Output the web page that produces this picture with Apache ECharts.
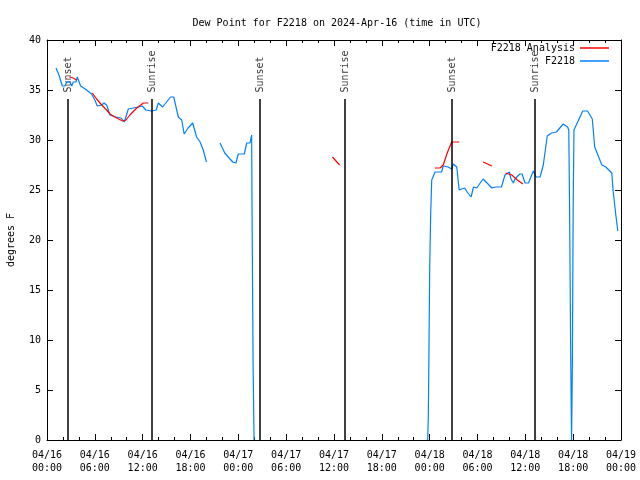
<!DOCTYPE html>
<html>
<head>
<meta charset="utf-8">
<script src="https://cdn.jsdelivr.net/npm/echarts@6/dist/echarts.min.js"></script>
<style>html,body{margin:0;padding:0;background:#fff}#c{width:640px;height:480px}</style>
</head>
<body>
<div id="c"></div>
<script>
// hours since 2024-04-16 00:00 UTC
const xTickLabels = ['04/16\n00:00','04/16\n06:00','04/16\n12:00','04/16\n18:00','04/17\n00:00','04/17\n06:00','04/17\n12:00','04/17\n18:00','04/18\n00:00','04/18\n06:00','04/18\n12:00','04/18\n18:00','04/19\n00:00'];

const obsHours = [1.13,1.5,1.92,2.26,2.47,2.89,3.1,3.3,3.64,3.8,4.05,4.22,4.97,5.6,6.0,6.3,6.86,7.15,7.48,7.9,8.66,9.3,9.7,10.2,10.8,11.45,11.95,12.4,13.1,13.7,13.96,14.5,15.0,15.5,15.9,16.27,16.47,16.9,17.2,17.7,18.27,18.77,19.2,19.6,20.0,
 20.8,
 21.7,22.3,22.96,23.3,23.7,24.0,24.75,25.05,25.25,25.46,25.67,25.72,25.85,25.97,
 37.0,
 47.75,47.83,47.92,48.0,48.13,48.26,48.67,49.5,49.7,50.3,50.76,50.96,51.4,51.7,52.0,52.4,52.7,53.2,53.5,53.9,54.7,55.2,55.8,56.3,57.0,57.45,58.0,58.2,58.5,58.7,58.9,59.3,59.6,59.96,60.4,61.0,61.35,61.85,62.25,62.75,63.3,63.9,64.75,65.3,65.45,65.55,65.7,65.8,65.9,66.0,66.1,67.2,67.8,68.4,68.7,69.2,69.6,70.1,70.85,71.0,71.35,71.6];
const obsDewPoint = [37.2,36.5,35.4,35.4,35.8,35.8,35.4,35.8,35.8,36.3,36.2,35.4,35.0,34.6,34.0,33.4,33.5,33.7,33.5,32.5,32.3,32.2,31.8,33.1,33.2,33.3,33.4,33.0,32.9,33.0,33.7,33.3,33.8,34.3,34.3,33.0,32.3,32.0,30.6,31.2,31.7,30.3,29.8,29.0,27.8,
 null,
 29.7,28.7,28.1,27.8,27.7,28.6,28.6,29.7,29.8,29.7,30.5,23.0,7.7,0,
 null,
 0,2.3,9.8,17.0,22.7,26.0,26.8,26.8,27.4,27.3,27.1,27.6,27.3,25.0,25.1,25.2,24.8,24.3,25.3,25.2,26.1,25.7,25.2,25.3,25.3,26.5,26.8,26.1,25.7,26.1,25.9,26.6,26.6,25.7,25.7,26.9,26.3,26.3,27.5,30.4,30.7,30.8,31.6,31.3,31.0,23.2,7.7,0,7.7,23.2,31.0,32.9,32.9,32.1,29.3,28.3,27.5,27.3,26.7,25.0,22.5,20.9];

const anaHours = [2.8,3.3,3.7, 4.5, 5.68,6.23,6.86,7.48,7.9,8.74,9.5,9.9,10.4,11.25,12.1,12.7, 20, 35.8,36.7, 42, 48.67,49.3,49.7,50.2,50.76,51.7, 53, 54.7,55.8, 56.5, 57.5,58.3,59.0,59.7];
const anaDewPoint = [36.3,36.2,36.0, null, 34.7,34.1,33.5,33.0,32.6,32.2,31.9,32.0,32.5,33.2,33.7,33.7, null, 28.3,27.5, null, 27.2,27.2,27.5,28.7,29.8,29.8, null, 27.8,27.4, null, 26.7,26.5,26.0,25.6];

const sunEventHours = [2.63,13.17,26.72,37.38,50.80,61.21];
const sunEventNames = ['Sunset','Sunrise','Sunset','Sunrise','Sunset','Sunrise'];

const FONT = 'DejaVu Sans Mono';
const chart = echarts.init(document.getElementById('c'), null, {renderer:'canvas'});

const pairs = (xs, ys) => xs.map((x,i) => [x, ys[i]]);

function xAxisDef(pos, showLabel){
  return {
    type:'value', min:0, max:72, interval:6, position:pos,
    axisLine:{show:true, onZero:false, lineStyle:{color:'#000', width:1}},
    axisTick:{show:true, inside:true, length:6, lineStyle:{color:'#000'}},
    minorTick:{show:true, splitNumber:3, length:3, lineStyle:{color:'#000'}},
    splitLine:{show:false}, minorSplitLine:{show:false},
    axisLabel: showLabel ? {show:true, inside:false, margin:9, fontFamily:FONT, fontSize:10, color:'#000', lineHeight:13,
        formatter:(v)=> xTickLabels[Math.round(v/6)]} : {show:false}
  };
}
function yAxisDef(pos, showLabel){
  const d = {
    type:'value', min:0, max:40, interval:5, position:pos,
    axisLine:{show:true, onZero:false, lineStyle:{color:'#000', width:1}},
    axisTick:{show:true, inside:true, length:6, lineStyle:{color:'#000'}},
    splitLine:{show:false},
    axisLabel: showLabel ? {show:true, inside:false, margin:6, fontFamily:FONT, fontSize:10, color:'#000'} : {show:false}
  };
  if (showLabel) {
    d.name = 'degrees F'; d.nameLocation = 'middle'; d.nameGap = 31; d.nameRotate = 90;
    d.nameTextStyle = {fontFamily:FONT, fontSize:10, color:'#000'};
  }
  return d;
}

chart.setOption({
  animation:false,
  backgroundColor:'#fff',
  title:{
    text:'Dew Point for F2218 on 2024-Apr-16 (time in UTC)',
    left:332, top:13, textAlign:'center',
    textStyle:{fontFamily:FONT, fontSize:10, fontWeight:'normal', color:'#000'}
  },
  legend:[
    {data:['F2218 Analysis'], right:31, top:43, orient:'vertical', align:'right', padding:0,
     icon:'rect', itemWidth:29, itemHeight:1.5,
     textStyle:{fontFamily:FONT, fontSize:10, color:'#000'}},
    {data:['F2218'], right:31, top:56, orient:'vertical', align:'right', padding:0,
     icon:'rect', itemWidth:29, itemHeight:1.5,
     textStyle:{fontFamily:FONT, fontSize:10, color:'#000'}}
  ],
  grid:{left:47, right:19, top:40, bottom:40, containLabel:false, outerBoundsMode:'none'},
  xAxis:[ xAxisDef('bottom', true), xAxisDef('top', false) ],
  yAxis:[ yAxisDef('left', true), yAxisDef('right', false) ],
  series:[
    {
      name:'F2218 Analysis', type:'line', data:pairs(anaHours, anaDewPoint),
      showSymbol:false, connectNulls:false, color:'#ff0000',
      lineStyle:{color:'#ff0000', width:1.2}, z:3
    },
    {
      name:'F2218', type:'line', data:pairs(obsHours, obsDewPoint),
      showSymbol:false, connectNulls:false, color:'#0080ff',
      lineStyle:{color:'#0080ff', width:1.2}, z:2
    },
    {
      name:'sun', type:'scatter', symbolSize:0, silent:true,
      data: sunEventHours.map((t,i)=>({value:[t,34.75], name:sunEventNames[i]})),
      label:{show:true, position:'inside', rotate:90, align:'left', verticalAlign:'middle',
        formatter:(p)=>p.name, fontFamily:FONT, fontSize:10, color:'#000'},
      markLine:{
        silent:true, symbol:['none','none'], label:{show:false},
        lineStyle:{color:'#000', width:1.5, type:'solid'},
        data: sunEventHours.map(t=>[{coord:[t,0]},{coord:[t,34.1]}])
      },
      z:1
    }
  ]
});
</script>
</body>
</html>
